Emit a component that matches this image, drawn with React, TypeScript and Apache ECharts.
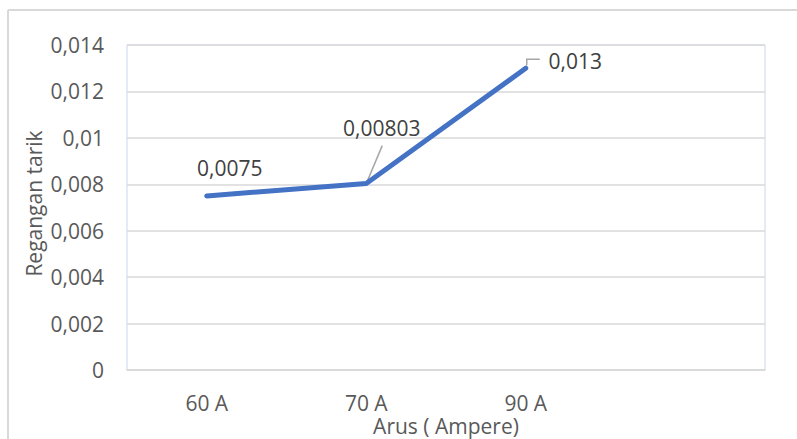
import React, { useEffect, useRef } from "react";
import * as echarts from "echarts";

const categories = ["60 A", "70 A", "90 A", ""];
const regangan = [0.0075, 0.00803, 0.013];
const dataLabels = ["0,0075", "0,00803", "0,013"];
const yTickLabels = ["0", "0,002", "0,004", "0,006", "0,008", "0,01", "0,012", "0,014"];
const yMin = 0;
const yMax = 0.014;
const yStep = 0.002;
const xTitle = "Arus ( Ampere)";
const yTitle = "Regangan tarik";

const FONT = "'Open Sans', sans-serif";
const GRID = { left: 127, top: 45, right: 32, bottom: 69 };
const labelOffsets: [number, number][] = [
  [23, -28],
  [15.5, -55.5],
  [49.5, -7.5],
];

export default function App() {
  const ref = useRef<HTMLDivElement>(null);
  useEffect(() => {
    if (!ref.current) return;
    const chart = echarts.init(ref.current, undefined, { renderer: "svg" });
    const option: any = {
      animation: false,
      backgroundColor: "#ffffff",
      textStyle: { fontFamily: FONT },
      grid: {
        ...GRID,
        containLabel: false,
        outerBoundsMode: "none",
        show: true,
        borderColor: "#c9d7ef",
        borderWidth: 1,
        backgroundColor: "transparent",
      },
      xAxis: {
        type: "category",
        data: categories,
        boundaryGap: true,
        axisTick: { show: false },
        axisLine: { show: true, lineStyle: { color: "#d9d9d9", width: 1.5 } },
        axisLabel: { color: "#595959", fontSize: 21, fontFamily: FONT, margin: 22 },
      },
      yAxis: {
        type: "value",
        min: yMin,
        max: yMax,
        interval: yStep,
        axisLine: { show: false },
        axisTick: { show: false },
        splitLine: { show: true, lineStyle: { color: "#d9d9d9", width: 1.5 } },
        axisLabel: {
          color: "#595959",
          fontSize: 21,
          fontFamily: FONT,
          margin: 23,
          formatter: (_v: number, i: number) => yTickLabels[i] ?? "",
        },
      },
      series: [
        {
          type: "line",
          data: regangan.map((v, i) => ({
            value: v,
            label: { offset: labelOffsets[i] },
          })),
          symbol: "circle",
          symbolSize: 4,
          itemStyle: { color: "#4472C4" },
          lineStyle: { color: "#4472C4", width: 5, cap: "round", join: "round" },
          label: {
            show: true,
            position: "inside",
            align: "center",
            verticalAlign: "middle",
            color: "#404040",
            fontSize: 21,
            fontFamily: FONT,
            formatter: (p: any) => dataLabels[p.dataIndex],
          },
        },
      ],
    };
    chart.setOption(option);
    const pts = regangan.map((v, i) => chart.convertToPixel({ seriesIndex: 0 }, [i, v]) as number[]);
    const W = chart.getWidth();
    const H = chart.getHeight();
    const plotCenterX = (GRID.left + (W - GRID.right)) / 2;
    const plotCenterY = (GRID.top + (H - GRID.bottom)) / 2;
    const leaderStyle = { stroke: "#a6a6a6", lineWidth: 1.5, fill: "none" };
    const borderStyle = { stroke: "#d9d9d9", lineWidth: 2 };
    const graphic: any[] = [
      { type: "line", silent: true, shape: { x1: 8, y1: 10, x2: W, y2: 10 }, style: borderStyle },
      { type: "line", silent: true, shape: { x1: 8, y1: 10, x2: 8, y2: H }, style: borderStyle },
      {
        type: "text",
        x: 34,
        y: plotCenterY - 4,
        rotation: Math.PI / 2,
        style: {
          text: yTitle,
          fill: "#595959",
          font: `21px ${FONT}`,
          align: "center",
          verticalAlign: "middle",
        },
      },
      {
        type: "text",
        x: plotCenterX,
        y: H - 13,
        style: {
          text: xTitle,
          fill: "#595959",
          font: `21px ${FONT}`,
          align: "center",
          verticalAlign: "middle",
        },
      },
      {
        type: "line",
        silent: true,
        shape: { x1: pts[1][0], y1: pts[1][1], x2: pts[1][0] + 16, y2: pts[1][1] - 38 },
        style: leaderStyle,
      },
      {
        type: "polyline",
        silent: true,
        shape: {
          points: [
            [pts[2][0] + 1, pts[2][1] - 3],
            [pts[2][0] + 1, pts[2][1] - 9],
            [pts[2][0] + 14, pts[2][1] - 9],
          ],
        },
        style: leaderStyle,
      },
    ];
    chart.setOption({ graphic });
    return () => chart.dispose();
  }, []);
  return (
    <div
      ref={ref}
      style={{ position: "absolute", left: 0, top: 0, width: 797, height: 439, overflow: "hidden" }}
    />
  );
}
